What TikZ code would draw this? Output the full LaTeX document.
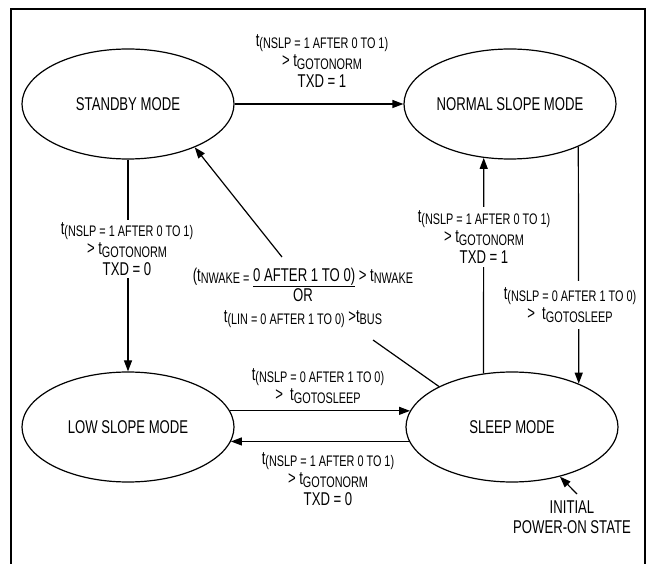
\documentclass[tikz,border=0pt]{standalone}
\usepackage{fontspec}
\setmainfont{Liberation Sans}[FakeStretch=0.71]
\usetikzlibrary{shapes.geometric}
\usetikzlibrary{arrows.meta}

\newcommand{\lo}[1]{\raisebox{-2.5pt}{\fontsize{15.3}{16}\selectfont #1}}

\tikzset{
mode/.style={ellipse,draw,line width=1.2pt,minimum width=212pt,minimum height=110pt,inner sep=0pt,font=\fontsize{18.5}{20}\selectfont},
arr/.style={line width=1.2pt,-{Triangle[length=11pt,width=8pt]}},
lbl/.style={align=center,font=\fontsize{18.5}{20.5}\selectfont,inner sep=2pt},
gap/.style={lbl,fill=white},
}

\begin{document}
\begin{tikzpicture}[x=1pt,y=-1pt]
\useasboundingbox (0,0) rectangle (649,564);
\draw[line width=1.5pt] (11,564) -- (11,9) -- (645,9) -- (645,564);

% states
\node[mode] (standby) at (128,104) {STANDBY MODE};
\node[mode] (normal) at (510,104) {NORMAL SLOPE MODE};
\node[mode] (low) at (128,427) {LOW SLOPE MODE};
\node[mode] (sleep) at (512,427) {SLEEP MODE};

% standby -> normal
\draw[arr] (standby.east) -- (normal.west);
\node[lbl] (toNormal) at (322,61) {t\lo{(NSLP = 1 AFTER 0 TO 1)}\\> t\lo{GOTONORM}\\TXD = 1};

% standby -> low
\draw[arr] (standby.south) -- (low.north);
\node[gap] (toLow) at (127,249) {t\lo{(NSLP = 1 AFTER 0 TO 1)}\\> t\lo{GOTONORM}\\TXD = 0};

% sleep -> normal
\draw[arr] (sleep.118.7) -- (normal.-116.9);
\node[gap,inner sep=4pt] (wakeNormal) at (484,237) {t\lo{(NSLP = 1 AFTER 0 TO 1)}\\> t\lo{GOTONORM}\\TXD = 1};

% normal -> sleep
\draw[arr] (normal.-32.45) -- (sleep.33.7);
\node[gap,inner sep=6pt] (normSleep) at (570,305) {t\lo{(NSLP = 0 AFTER 1 TO 0)}\\>\ \ t\lo{GOTOSLEEP}};

% low <-> sleep
\draw[arr] (low.9) -- (sleep.171);
\node[lbl] (lowSleep) at (318,386) {t\lo{(NSLP = 0 AFTER 1 TO 0)}\\>\ \ t\lo{GOTOSLEEP}};
\draw[arr] (sleep.188) -- (low.-8);
\node[lbl] (sleepLow) at (328,479) {t\lo{(NSLP = 1 AFTER 0 TO 1)}\\> t\lo{GOTONORM}\\TXD = 0};

% sleep -> standby (wake up)
\node[lbl] (wake) at (303,298) {(t\lo{NWAKE =} \underline{0 AFTER 1 TO 0)} > t\lo{NWAKE}\\OR\\t\lo{(LIN = 0 AFTER 1 TO 0)} >t\lo{BUS}};
\coordinate (wakeA) at (282,257);
\coordinate (wakeB) at (373,340);
\draw[line width=1.2pt] (sleep.151) -- (wakeB);
\draw[arr] (wakeA) -- (standby.-33);

% power on
\node[lbl] (init) at (572,517) {INITIAL\\POWER-ON STATE};
\coordinate (initA) at (577,494);
\draw[arr] (initA) -- (sleep.-46.7);
\end{tikzpicture}
\end{document}
